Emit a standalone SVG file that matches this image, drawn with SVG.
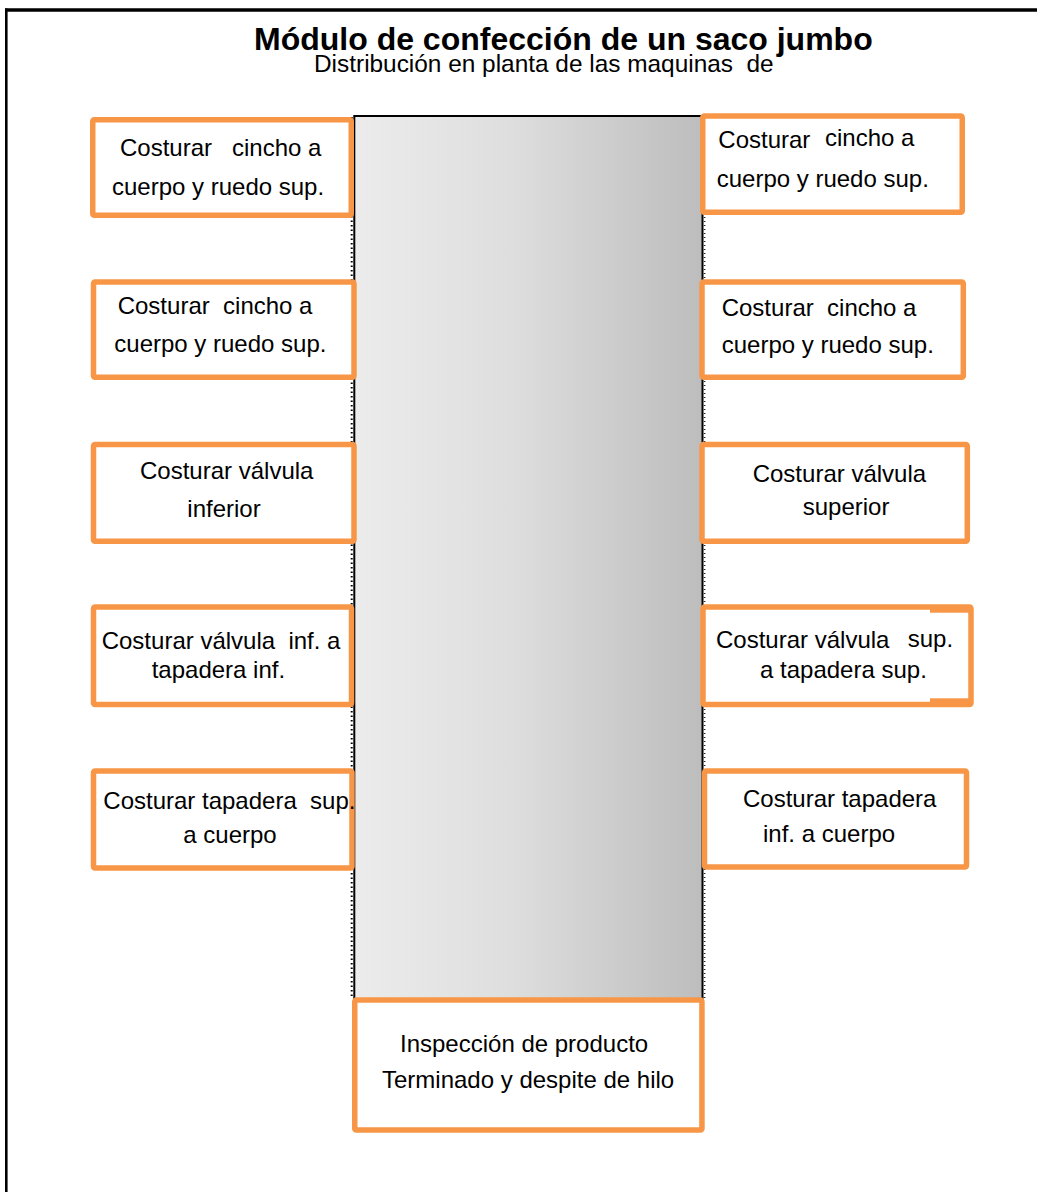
<svg xmlns="http://www.w3.org/2000/svg" width="1037" height="1192" viewBox="0 0 1037 1192">
  <style>
    .st { fill: #ffffff; stroke: #f79646; stroke-width: 5.5; }
    .tx { font-family: "Liberation Sans", Arial, sans-serif; font-size: 24px; fill: #000000; }
    .ttl { font-family: "Liberation Sans", Arial, sans-serif; font-size: 32px; font-weight: bold; fill: #000000; }
    .sub { font-family: "Liberation Sans", Arial, sans-serif; font-size: 24.4px; fill: #000000; }
  </style>
  <defs>
    <linearGradient id="aisleFill" x1="0" y1="0" x2="1" y2="0">
      <stop offset="0" stop-color="#ececec"/>
      <stop offset="0.45" stop-color="#dedede"/>
      <stop offset="1" stop-color="#bdbdbd"/>
    </linearGradient>
  </defs>

  <rect x="0" y="0" width="1037" height="1192" fill="#ffffff"/>

  <!-- page frame (left and top edges) -->
  <g id="frame" stroke="#000000" fill="none">
    <line x1="6.3" y1="8.5" x2="6.3" y2="1192" stroke-width="2.6"/>
    <line x1="5" y1="10" x2="1037" y2="10" stroke-width="3.3"/>
  </g>

  <!-- heading -->
  <g id="title">
    <text class="ttl" x="254" y="50">Módulo de confección de un saco jumbo</text>
    <text class="sub" x="314" y="72" xml:space="preserve">Distribución en planta de las maquinas  de</text>
  </g>

  <!-- central aisle between the two rows of machines -->
  <g id="aisle">
    <rect x="354.3" y="116" width="348.2" height="884" fill="url(#aisleFill)" stroke="#000000" stroke-width="2"/>
    <line x1="351.7" y1="117" x2="351.7" y2="998" stroke="#000000" stroke-width="2" stroke-dasharray="1.5 3"/>
    <line x1="704.6" y1="117" x2="704.6" y2="998" stroke="#222222" stroke-width="1.6" stroke-dasharray="1 3"/>
  </g>

  <!-- left row of machines -->
  <g id="m-left-1">
    <rect class="st" x="92.75" y="119.75" width="258.5" height="95.5" rx="1.5"/>
    <text class="tx" x="120" y="156" xml:space="preserve">Costurar   cincho a</text>
    <text class="tx" x="112" y="195">cuerpo y ruedo sup.</text>
  </g>
  <g id="m-left-2">
    <rect class="st" x="93.5" y="282" width="260.5" height="95.3" rx="1.5"/>
    <text class="tx" x="117.7" y="314" xml:space="preserve">Costurar  cincho a</text>
    <text class="tx" x="114.3" y="351.7">cuerpo y ruedo sup.</text>
  </g>
  <g id="m-left-3">
    <rect class="st" x="93.5" y="444.5" width="260.5" height="96.8" rx="1.5"/>
    <text class="tx" x="140" y="479.3">Costurar válvula</text>
    <text class="tx" x="187.3" y="516.7">inferior</text>
  </g>
  <g id="m-left-4">
    <rect class="st" x="93.5" y="607" width="258" height="97.5" rx="1.5"/>
    <text class="tx" x="101.7" y="649" xml:space="preserve">Costurar válvula  inf. a</text>
    <text class="tx" x="151.7" y="678.3">tapadera inf.</text>
  </g>
  <g id="m-left-5">
    <rect class="st" x="93.5" y="771" width="258.5" height="97" rx="1.5"/>
    <text class="tx" x="103.3" y="809" xml:space="preserve">Costurar tapadera  sup.</text>
    <text class="tx" x="183.3" y="843.3">a cuerpo</text>
  </g>

  <!-- right row of machines -->
  <g id="m-right-1">
    <rect class="st" x="702.75" y="116" width="259.5" height="96.2" rx="1.5"/>
    <text class="tx" x="718.3" y="148.3">Costurar</text>
    <text class="tx" x="825" y="145.7">cincho a</text>
    <text class="tx" x="716.7" y="186.7">cuerpo y ruedo sup.</text>
  </g>
  <g id="m-right-2">
    <rect class="st" x="702" y="282" width="261.3" height="95.3" rx="1.5"/>
    <text class="tx" x="721.7" y="315.7" xml:space="preserve">Costurar  cincho a</text>
    <text class="tx" x="721.7" y="353.3">cuerpo y ruedo sup.</text>
  </g>
  <g id="m-right-3">
    <rect class="st" x="702" y="444.5" width="265.3" height="96.8" rx="1.5"/>
    <text class="tx" x="752.7" y="481.7">Costurar válvula</text>
    <text class="tx" x="802.7" y="515">superior</text>
  </g>
  <g id="m-right-4">
    <rect class="st" x="703" y="607" width="268" height="97.5" rx="1.5"/>
    <rect x="930" y="607" width="40" height="5.7" fill="#f79646"/>
    <rect x="930" y="698.3" width="40" height="6" fill="#f79646"/>
    <text class="tx" x="716" y="648.3">Costurar válvula</text>
    <text class="tx" x="907.7" y="646.7">sup.</text>
    <text class="tx" x="760" y="678.3">a tapadera sup.</text>
  </g>
  <g id="m-right-5">
    <rect class="st" x="704.5" y="771" width="262" height="96" rx="1.5"/>
    <text class="tx" x="743" y="807">Costurar tapadera</text>
    <text class="tx" x="763" y="842">inf. a cuerpo</text>
  </g>

  <!-- final inspection station at the end of the aisle -->
  <g id="inspection">
    <rect class="st" x="354.75" y="1000" width="347.2" height="130" rx="1.5"/>
    <text class="tx" x="400" y="1052">Inspección de producto</text>
    <text class="tx" x="382" y="1088">Terminado y despite de hilo</text>
  </g>

  <g id="connectors"/>
</svg>
